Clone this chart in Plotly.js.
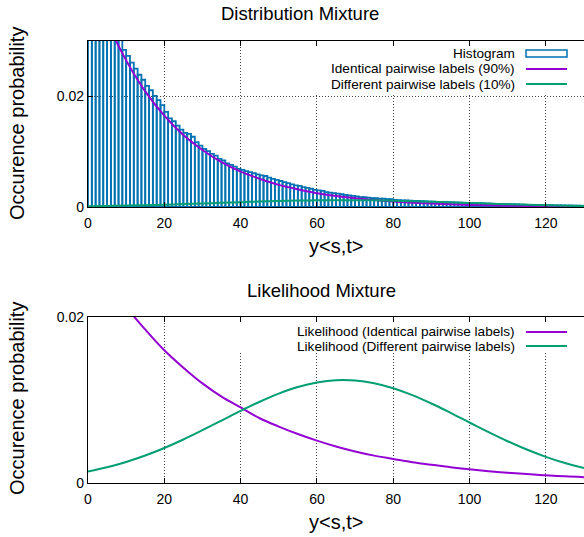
<!DOCTYPE html>
<html>
<head>
<meta charset="utf-8">
<script src="https://cdn.plot.ly/plotly-3.0.1.min.js"></script>
<style>html,body{margin:0;padding:0;background:#fff;}#chart{width:584px;height:537px;}</style>
</head>
<body>
<div id="chart"></div>
<script>
// ---------- data ----------
const binStart = 0;
const binWidth = 1;
const histValues = [
  0.0460, 0.0440, 0.0418, 0.0399, 0.0380, 0.0362, 0.0345, 0.0328, 0.0311, 0.0284,
  0.0273, 0.0261, 0.0250, 0.0239, 0.0230, 0.0219, 0.0211, 0.0201, 0.0193, 0.0184,
  0.0172, 0.0160, 0.0155, 0.0147, 0.0140, 0.0134, 0.0132, 0.0127, 0.0117, 0.0111,
  0.0105, 0.0101, 0.0096, 0.0093, 0.0087, 0.0084, 0.0079, 0.0076, 0.0073, 0.0069,
  0.0067, 0.0065, 0.0063, 0.0061, 0.0059, 0.0057, 0.0056, 0.0053, 0.0051, 0.0049,
  0.0047, 0.0045, 0.0043, 0.0041, 0.0039, 0.0038, 0.0036, 0.00345, 0.0033, 0.0031,
  0.0030, 0.0029, 0.0027, 0.0026, 0.0025, 0.0024, 0.0023, 0.0022, 0.0021, 0.0020,
  0.0019, 0.0018, 0.0018, 0.0017, 0.0016, 0.0016, 0.0015, 0.0015, 0.0014, 0.0014,
  0.0013, 0.00125, 0.0012, 0.00118, 0.00115, 0.0011, 0.00108, 0.00105, 0.0010, 0.00098,
  0.00095, 0.00092, 0.0009, 0.00087, 0.00084, 0.00082, 0.0008, 0.00077, 0.00075, 0.00072,
  0.0007, 0.00068, 0.00066, 0.00063, 0.00061, 0.00059, 0.00057, 0.00055, 0.00053, 0.00051,
  0.00049, 0.00047, 0.00045, 0.00044, 0.00042, 0.0004, 0.00039, 0.00037, 0.00036, 0.00034,
  0.00033, 0.00032, 0.0003, 0.00029, 0.00028, 0.00027, 0.00026, 0.00025, 0.00024, 0.00023
];

const curveX = [0, 5, 10, 15, 20, 25, 30, 35, 40, 45, 50, 55, 60, 65, 70, 75, 80, 85, 90, 95, 100, 105, 110, 115, 120, 125, 130];

// top panel: weighted components
const identical90 = [0.0424, 0.0335, 0.0265, 0.0209, 0.0165, 0.0130, 0.0103, 0.0081, 0.0064, 0.0051, 0.0040, 0.0032, 0.0025, 0.0020, 0.0016, 0.00125, 0.00098, 0.00077, 0.00061, 0.00048, 0.00038, 0.0003, 0.00024, 0.00019, 0.00015, 0.00012, 0.0001];
const different10 = [0.000139, 0.00019, 0.000254, 0.000331, 0.000422, 0.000524, 0.000636, 0.000752, 0.000869, 0.000979, 0.001077, 0.001156, 0.00121, 0.001238, 0.001235, 0.001202, 0.001142, 0.001059, 0.000958, 0.000846, 0.000729, 0.000613, 0.000503, 0.000403, 0.000315, 0.00024, 0.000179];

// bottom panel: likelihoods
const likeIdentical = [0.0283, 0.0245, 0.0212, 0.0185, 0.0160, 0.0139, 0.0120, 0.0104, 0.0091, 0.0078, 0.0068, 0.0059, 0.0051, 0.0044, 0.0038, 0.0033, 0.0029, 0.0025, 0.0022, 0.0019, 0.00165, 0.00143, 0.00124, 0.00107, 0.00093, 0.0008, 0.0007];
const likeDifferent = [0.00139, 0.0019, 0.00254, 0.00331, 0.00422, 0.00524, 0.00636, 0.00752, 0.00869, 0.00979, 0.01077, 0.01156, 0.0121, 0.01238, 0.01235, 0.01202, 0.01142, 0.01059, 0.00958, 0.00846, 0.00729, 0.00613, 0.00503, 0.00403, 0.00315, 0.0024, 0.00179];

const yTickVals = [0, 0.02];
const yTickText = ['0', '0.02'];
const xTickVals = [0, 20, 40, 60, 80, 100, 120];

const topLegend = ['Histogram', 'Identical pairwise labels (90%)', 'Different pairwise labels (10%)'];
const bottomLegend = ['Likelihood (Identical pairwise labels)', 'Likelihood (Different pairwise labels)'];

// ---------- styling ----------
const W = 584, H = 537;
const FONT = 'Liberation Sans, Arial, Helvetica, sans-serif';
const C_BLUE = '#0072b2', C_PURPLE = '#9400d3', C_GREEN = '#009e73';
const KEY_SIZE = 13.6;
const px = v => v / W;
const py = v => 1 - v / H;

const binCenters = histValues.map((_, i) => binStart + (i + 0.5) * binWidth);

const traces = [
  {type: 'bar', x: binCenters, y: histValues, width: binWidth, xaxis: 'x', yaxis: 'y',
   marker: {color: 'rgba(255,255,255,0)', line: {color: C_BLUE, width: 1.8}}, showlegend: false, hoverinfo: 'skip'},
  {type: 'scatter', mode: 'lines', x: curveX, y: identical90, xaxis: 'x', yaxis: 'y',
   line: {color: C_PURPLE, width: 2, shape: 'spline'}, showlegend: false},
  {type: 'scatter', mode: 'lines', x: curveX, y: different10, xaxis: 'x', yaxis: 'y',
   line: {color: C_GREEN, width: 2, shape: 'spline'}, showlegend: false},
  {type: 'scatter', mode: 'lines', x: curveX, y: likeIdentical, xaxis: 'x2', yaxis: 'y2',
   line: {color: C_PURPLE, width: 2, shape: 'spline'}, showlegend: false},
  {type: 'scatter', mode: 'lines', x: curveX, y: likeDifferent, xaxis: 'x2', yaxis: 'y2',
   line: {color: C_GREEN, width: 2, shape: 'spline'}, showlegend: false}
];

const xBase = {
  domain: [px(88), 1], range: [0, 130], tickvals: xTickVals,
  ticks: 'inside', ticklen: 5, tickwidth: 1, tickcolor: '#000',
  showline: true, linecolor: '#000', linewidth: 1.2, mirror: 'ticks',
  showgrid: true, gridcolor: '#444', gridwidth: 1, griddash: '1px,2px',
  zeroline: false, automargin: false, fixedrange: true, ticklabelstandoff: 3,
  tickfont: {family: FONT, size: 14, color: '#000'}
};
const yBase = {
  range: [0, 0.03], tickvals: yTickVals, ticktext: yTickText,
  ticks: 'inside', ticklen: 5, tickwidth: 1, tickcolor: '#000',
  showline: true, linecolor: '#000', linewidth: 1.2, mirror: false,
  showgrid: true, gridcolor: '#444', gridwidth: 1, griddash: '1px,2px',
  zeroline: false, automargin: false, fixedrange: true,
  tickfont: {family: FONT, size: 14, color: '#000'}
};

const layout = {
  width: W, height: H,
  margin: {l: 0, r: 0, t: 0, b: 0, pad: 0},
  paper_bgcolor: '#fff', plot_bgcolor: '#fff',
  showlegend: false,
  barmode: 'overlay', bargap: 0,
  xaxis: Object.assign({}, xBase, {anchor: 'y'}),
  yaxis: Object.assign({}, yBase, {anchor: 'x', domain: [py(207), py(41)], range: [0, 0.03]}),
  xaxis2: Object.assign({}, xBase, {anchor: 'y2'}),
  yaxis2: Object.assign({}, yBase, {anchor: 'x2', domain: [py(483), py(317)], range: [0, 0.02]}),
  shapes: [],
  annotations: []
};

function ann(text, x, y, size, opts) {
  layout.annotations.push(Object.assign({
    text: text, xref: 'paper', yref: 'paper', x: px(x), y: py(y),
    xanchor: 'center', yanchor: 'middle', showarrow: false, borderpad: 0,
    font: {family: FONT, size: size, color: '#000'}
  }, opts || {}));
}

// titles
ann('Distribution Mixture', 300, 13, 18.5);
ann('Likelihood Mixture', 321, 290, 18.5);
ann('Occurence probability', 17, 124, 20, {textangle: -90});
ann('Occurence probability', 17, 399, 20, {textangle: -90});
ann('y&lt;s,t&gt;', 336, 246, 20);
ann('y&lt;s,t&gt;', 336, 522, 20);

// key boxes (white background hiding grid)
layout.shapes.push({type: 'rect', xref: 'paper', yref: 'paper', x0: px(300), x1: px(584), y0: py(94), y1: py(47),
  fillcolor: '#fff', line: {width: 0}, layer: 'above'});
layout.shapes.push({type: 'rect', xref: 'paper', yref: 'paper', x0: px(232), x1: px(584), y0: py(353), y1: py(322),
  fillcolor: '#fff', line: {width: 0}, layer: 'above'});

// top key
const topRows = [53.2, 68.8, 84.4];
topLegend.forEach((t, i) => ann(t, 516, topRows[i], KEY_SIZE, {xanchor: 'right'}));
layout.shapes.push({type: 'rect', xref: 'paper', yref: 'paper', x0: px(526), x1: px(567), y0: py(57), y1: py(50),
  fillcolor: 'rgba(0,0,0,0)', line: {color: C_BLUE, width: 1.5}, layer: 'above'});
layout.shapes.push({type: 'line', xref: 'paper', yref: 'paper', x0: px(526), x1: px(567), y0: py(69), y1: py(69),
  line: {color: C_PURPLE, width: 2}, layer: 'above'});
layout.shapes.push({type: 'line', xref: 'paper', yref: 'paper', x0: px(526), x1: px(567), y0: py(84), y1: py(84),
  line: {color: C_GREEN, width: 2}, layer: 'above'});

// bottom key
const botRows = [331.2, 346.8];
const botLines = [332, 346];
const botColors = [C_PURPLE, C_GREEN];
bottomLegend.forEach((t, i) => {
  ann(t, 516, botRows[i], KEY_SIZE, {xanchor: 'right'});
  layout.shapes.push({type: 'line', xref: 'paper', yref: 'paper', x0: px(526), x1: px(567), y0: py(botLines[i]), y1: py(botLines[i]),
    line: {color: botColors[i], width: 2}, layer: 'above'});
});

Plotly.newPlot('chart', traces, layout, {staticPlot: true, displayModeBar: false});
</script>
</body>
</html>
